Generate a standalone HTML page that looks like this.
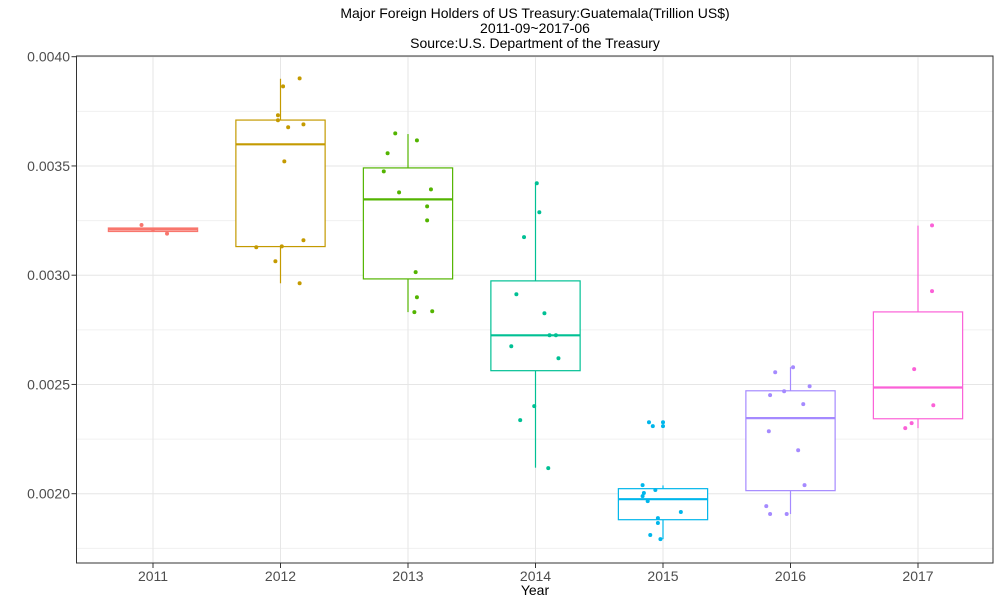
<!DOCTYPE html>
<html><head><meta charset="utf-8"><style>
body{margin:0;background:#fff;}
svg text{font-family:"Liberation Sans",sans-serif;}
</style></head><body>
<svg id="chart" width="1000" height="600" viewBox="0 0 1000 600" xmlns="http://www.w3.org/2000/svg">
<g font-size="14" fill="#000" text-anchor="middle">
<text x="535" y="18">Major Foreign Holders of US Treasury:Guatemala(Trillion US$)</text>
<text x="535" y="33">2011-09~2017-06</text>
<text x="535" y="48">Source:U.S. Department of the Treasury</text>
</g>
<g id="grid"></g><g id="marks"></g><g id="axes"></g>
<text x="535" y="595" font-size="14" text-anchor="middle" fill="#000">Year</text>
</svg>
<script>
const categories = ["2011","2012","2013","2014","2015","2016","2017"];
const colors = ["#F8766D","#C49A00","#53B400","#00C094","#00B6EB","#A58AFF","#FB61D7"];
const yTicks = [0.0020,0.0025,0.0030,0.0035,0.0040];
const yTickLabels = ["0.0020","0.0025","0.0030","0.0035","0.0040"];
const whiskerHigh = [0.003216,0.003899,0.003646,0.003421,0.002038,0.002579,0.003227];
const q3 = [0.003216,0.003710,0.003491,0.002974,0.002023,0.002471,0.002832];
const median = [0.003209,0.003599,0.003347,0.002725,0.001975,0.002346,0.002486];
const q1 = [0.003200,0.003131,0.002983,0.002563,0.001881,0.002014,0.002343];
const whiskerLow = [0.003200,0.002963,0.002831,0.002119,0.001792,0.001907,0.002300];
const points2011 = [0.003230,0.003209,0.003190];
const points2012 = [0.003901,0.003864,0.003732,0.003709,0.003677,0.003690,0.003521,0.003128,0.003132,0.003160,0.003064,0.002963];
const points2013 = [0.003649,0.003617,0.003558,0.003475,0.003379,0.003393,0.003315,0.003251,0.003014,0.002899,0.002831,0.002835];
const points2014 = [0.003421,0.003288,0.003174,0.002913,0.002826,0.002725,0.002725,0.002675,0.002620,0.002401,0.002337,0.002117];
const points2015 = [0.002327,0.002327,0.002309,0.002309,0.002039,0.002017,0.002003,0.001989,0.001966,0.001916,0.001888,0.001866,0.001811,0.001792];
const points2016 = [0.002556,0.002579,0.002492,0.002451,0.002469,0.002410,0.002286,0.002199,0.002039,0.001943,0.001907,0.001907];
const points2017 = [0.003228,0.002927,0.002570,0.002405,0.002323,0.002300];
const jitter2011 = [-0.09,0,0.11];
const jitter2012 = [0.15,0.02,-0.02,-0.02,0.06,0.18,0.03,-0.19,0.01,0.18,-0.04,0.15];
const jitter2013 = [-0.1,0.07,-0.16,-0.19,-0.07,0.18,0.15,0.15,0.06,0.07,0.05,0.19];
const jitter2014 = [0.01,0.03,-0.09,-0.15,0.07,0.11,0.16,-0.19,0.18,-0.01,-0.12,0.1];
const jitter2015 = [-0.11,0,-0.08,0,-0.16,-0.06,-0.15,-0.16,-0.12,0.14,-0.04,-0.04,-0.1,-0.02];
const jitter2016 = [-0.12,0.02,0.15,-0.16,-0.05,0.1,-0.17,0.06,0.11,-0.19,-0.16,-0.03];
const jitter2017 = [0.11,0.11,-0.03,0.12,-0.05,-0.1];
const pointSets = [points2011,points2012,points2013,points2014,points2015,points2016,points2017];
const jitterSets = [jitter2011,jitter2012,jitter2013,jitter2014,jitter2015,jitter2016,jitter2017];

const L=76.5,R=993,T=56,B=563,band=127.5;
const xS=i=>153+band*i;
const yS=v=>56.7+(0.004-v)*218500;
const NS="http://www.w3.org/2000/svg";
function mk(tag,attrs,parent){const e=document.createElementNS(NS,tag);for(const k in attrs)e.setAttribute(k,attrs[k]);parent.appendChild(e);return e;}
const grid=document.getElementById('grid'),marks=document.getElementById('marks'),axes=document.getElementById('axes');
mk('rect',{x:L,y:T,width:R-L,height:B-T,fill:'#fff'},grid);
for(let i=0;i<yTicks.length;i++){
  const m=mk('line',{x1:L,x2:R,y1:yS(yTicks[i]-0.00025),y2:yS(yTicks[i]-0.00025),stroke:'#f0f0f0','stroke-width':1},grid);
  
  
  const g=mk('line',{x1:L,x2:R,y1:yS(yTicks[i]),y2:yS(yTicks[i]),stroke:'#e6e6e6','stroke-width':1},grid);
  
  
  const t=mk('text',{x:70,y:yS(yTicks[i])+5,'font-size':14,fill:'#4d4d4d','text-anchor':'end'},axes);
  t.textContent=yTickLabels[i];
  
  
  mk('line',{x1:L-5,x2:L,y1:yS(yTicks[i]),y2:yS(yTicks[i]),stroke:'#333'},axes);
}
categories.forEach((c,i)=>{
  const x=xS(i);
  const g=mk('line',{x1:x,x2:x,y1:T,y2:B,stroke:'#e6e6e6'},grid);
  
  
  mk('line',{x1:x,x2:x,y1:B,y2:B+5,stroke:'#333'},axes);
  const t=mk('text',{x:x,y:581,'font-size':14,fill:'#4d4d4d','text-anchor':'middle'},axes);
  t.textContent=c;
  
  
  const col=colors[i],hw=band*0.35;
  const grp=mk('g',{},marks);
  
  
  mk('line',{x1:x,x2:x,y1:yS(whiskerHigh[i]),y2:yS(q3[i]),stroke:col,'stroke-width':1.2},grp);
  mk('line',{x1:x,x2:x,y1:yS(q1[i]),y2:yS(whiskerLow[i]),stroke:col,'stroke-width':1.2},grp);
  mk('rect',{x:x-hw,y:yS(q3[i]),width:hw*2,height:Math.max(yS(q1[i])-yS(q3[i]),1),fill:'#fff',stroke:col,'stroke-width':1.2},grp);
  mk('line',{x1:x-hw,x2:x+hw,y1:yS(median[i]),y2:yS(median[i]),stroke:col,'stroke-width':2.2},grp);
  pointSets[i].forEach((v,j)=>{
    const p=mk('circle',{cx:x+jitterSets[i][j]*band,cy:yS(v),r:2,fill:col},marks);
    
    
  });
});
mk('rect',{x:L,y:T,width:R-L,height:B-T,fill:'none',stroke:'#333','stroke-width':1},axes);
</script>
</body></html>
